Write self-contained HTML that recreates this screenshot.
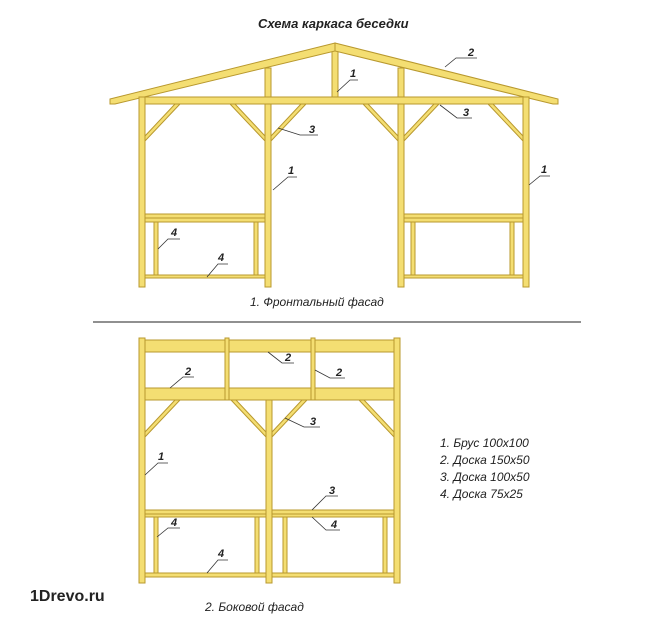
<!DOCTYPE html>
<html><head><meta charset="utf-8"><style>
html,body{margin:0;padding:0;background:#fff;}
svg{display:block}
text{font-family:"Liberation Sans",sans-serif;font-style:italic;fill:#222}
</style></head><body>
<svg width="670" height="624" viewBox="0 0 670 624" xmlns="http://www.w3.org/2000/svg">
<g fill="#f4de72" stroke="#b8982e" stroke-width="1">
<!-- FRONT -->
<!-- posts from roof -->
<rect x="265" y="68" width="6" height="219"/>
<rect x="398" y="68" width="6" height="219"/>
<rect x="332" y="50" width="6" height="48"/>
<!-- roof -->
<polygon points="110,99 335,43 335,51 115,104 110,104"/>
<polygon points="335,43 558,99 558,104 553,104 335,51"/>
<!-- beam -->
<rect x="139" y="97" width="390" height="7"/>
<!-- corner posts -->
<rect x="139" y="97" width="6" height="190"/>
<rect x="523" y="97" width="6" height="190"/>
<!-- braces -->
<polygon points="145,136 175,104 180,104 145,141"/>
<polygon points="265,136 235,104 230,104 265,141"/>
<polygon points="271,136 301,104 306,104 271,141"/>
<polygon points="398,136 368,104 363,104 398,141"/>
<polygon points="404,136 434,104 439,104 404,141"/>
<polygon points="523,136 493,104 488,104 523,141"/>
<!-- benches left -->
<rect x="145" y="214" width="120" height="4"/>
<rect x="145" y="218" width="120" height="4"/>
<rect x="154" y="222" width="4" height="53"/>
<rect x="254" y="222" width="4" height="53"/>
<rect x="145" y="275" width="120" height="3"/>
<rect x="404" y="214" width="119" height="4"/>
<rect x="404" y="218" width="119" height="4"/>
<rect x="411" y="222" width="4" height="53"/>
<rect x="510" y="222" width="4" height="53"/>
<rect x="404" y="275" width="119" height="3"/>

<!-- SIDE -->
<rect x="139" y="340" width="261" height="12"/>
<rect x="139" y="388" width="261" height="12"/>
<rect x="139" y="338" width="6" height="245"/>
<rect x="394" y="338" width="6" height="245"/>
<rect x="225" y="338" width="4" height="62"/>
<rect x="311" y="338" width="4" height="62"/>
<rect x="266" y="400" width="6" height="183"/>
<polygon points="145,432 175,400 180,400 145,437"/>
<polygon points="266,432 236,400 231,400 266,437"/>
<polygon points="272,432 302,400 307,400 272,437"/>
<polygon points="394,432 364,400 359,400 394,437"/>
<rect x="145" y="510" width="121" height="4"/>
<rect x="145" y="514" width="121" height="3"/>
<rect x="272" y="510" width="122" height="4"/>
<rect x="272" y="514" width="122" height="3"/>
<rect x="154" y="517" width="4" height="56"/>
<rect x="255" y="517" width="4" height="56"/>
<rect x="283" y="517" width="4" height="56"/>
<rect x="383" y="517" width="4" height="56"/>
<rect x="145" y="573" width="121" height="4"/>
<rect x="272" y="573" width="122" height="4"/>
</g>

<!-- leaders -->
<g stroke="#333" stroke-width="0.8" fill="none">
<path d="M337,92 L350,80 H358"/>
<path d="M445,67 L456,58 H477"/>
<path d="M278,128 L300,135 H318"/>
<path d="M440,105 L457,118 H472"/>
<path d="M273,190 L288,177 H297"/>
<path d="M529,185 L540,176 H550"/>
<path d="M158,249 L168,239 H180"/>
<path d="M207,277 L218,264 H228"/>
<!-- side -->
<path d="M268,352 L282,363 H294"/>
<path d="M170,388 L183,377 H194"/>
<path d="M315,370 L330,378 H345"/>
<path d="M285,418 L304,427 H320"/>
<path d="M145,475 L158,463 H168"/>
<path d="M312,510 L326,496 H338"/>
<path d="M312,517 L326,530 H340"/>
<path d="M157,537 L168,528 H180"/>
<path d="M207,573 L218,560 H228"/>
<path d="M93,322 H581" stroke="#222" stroke-width="1"/>
</g>
<g font-size="11" font-weight="bold">
<text x="350" y="77">1</text>
<text x="468" y="56">2</text>
<text x="309" y="133">3</text>
<text x="463" y="116">3</text>
<text x="288" y="174">1</text>
<text x="541" y="173">1</text>
<text x="171" y="236">4</text>
<text x="218" y="261">4</text>
<text x="285" y="361">2</text>
<text x="185" y="375">2</text>
<text x="336" y="376">2</text>
<text x="310" y="425">3</text>
<text x="158" y="460">1</text>
<text x="329" y="494">3</text>
<text x="331" y="528">4</text>
<text x="171" y="526">4</text>
<text x="218" y="557">4</text>
</g>
<text x="258" y="28" font-size="13" font-weight="bold">Схема  каркаса  беседки</text>
<text x="250" y="306" font-size="12">1. Фронтальный  фасад</text>
<text x="205" y="611" font-size="12">2.  Боковой  фасад</text>
<g font-size="12">
<text x="440" y="447">1. Брус 100х100</text>
<text x="440" y="464">2. Доска 150х50</text>
<text x="440" y="481">3. Доска 100х50</text>
<text x="440" y="498">4. Доска 75х25</text>
</g>
<text x="30" y="601" font-size="16" font-weight="bold" style="font-style:normal" fill="#000">1Drevo.ru</text>
</svg>
</body></html>
